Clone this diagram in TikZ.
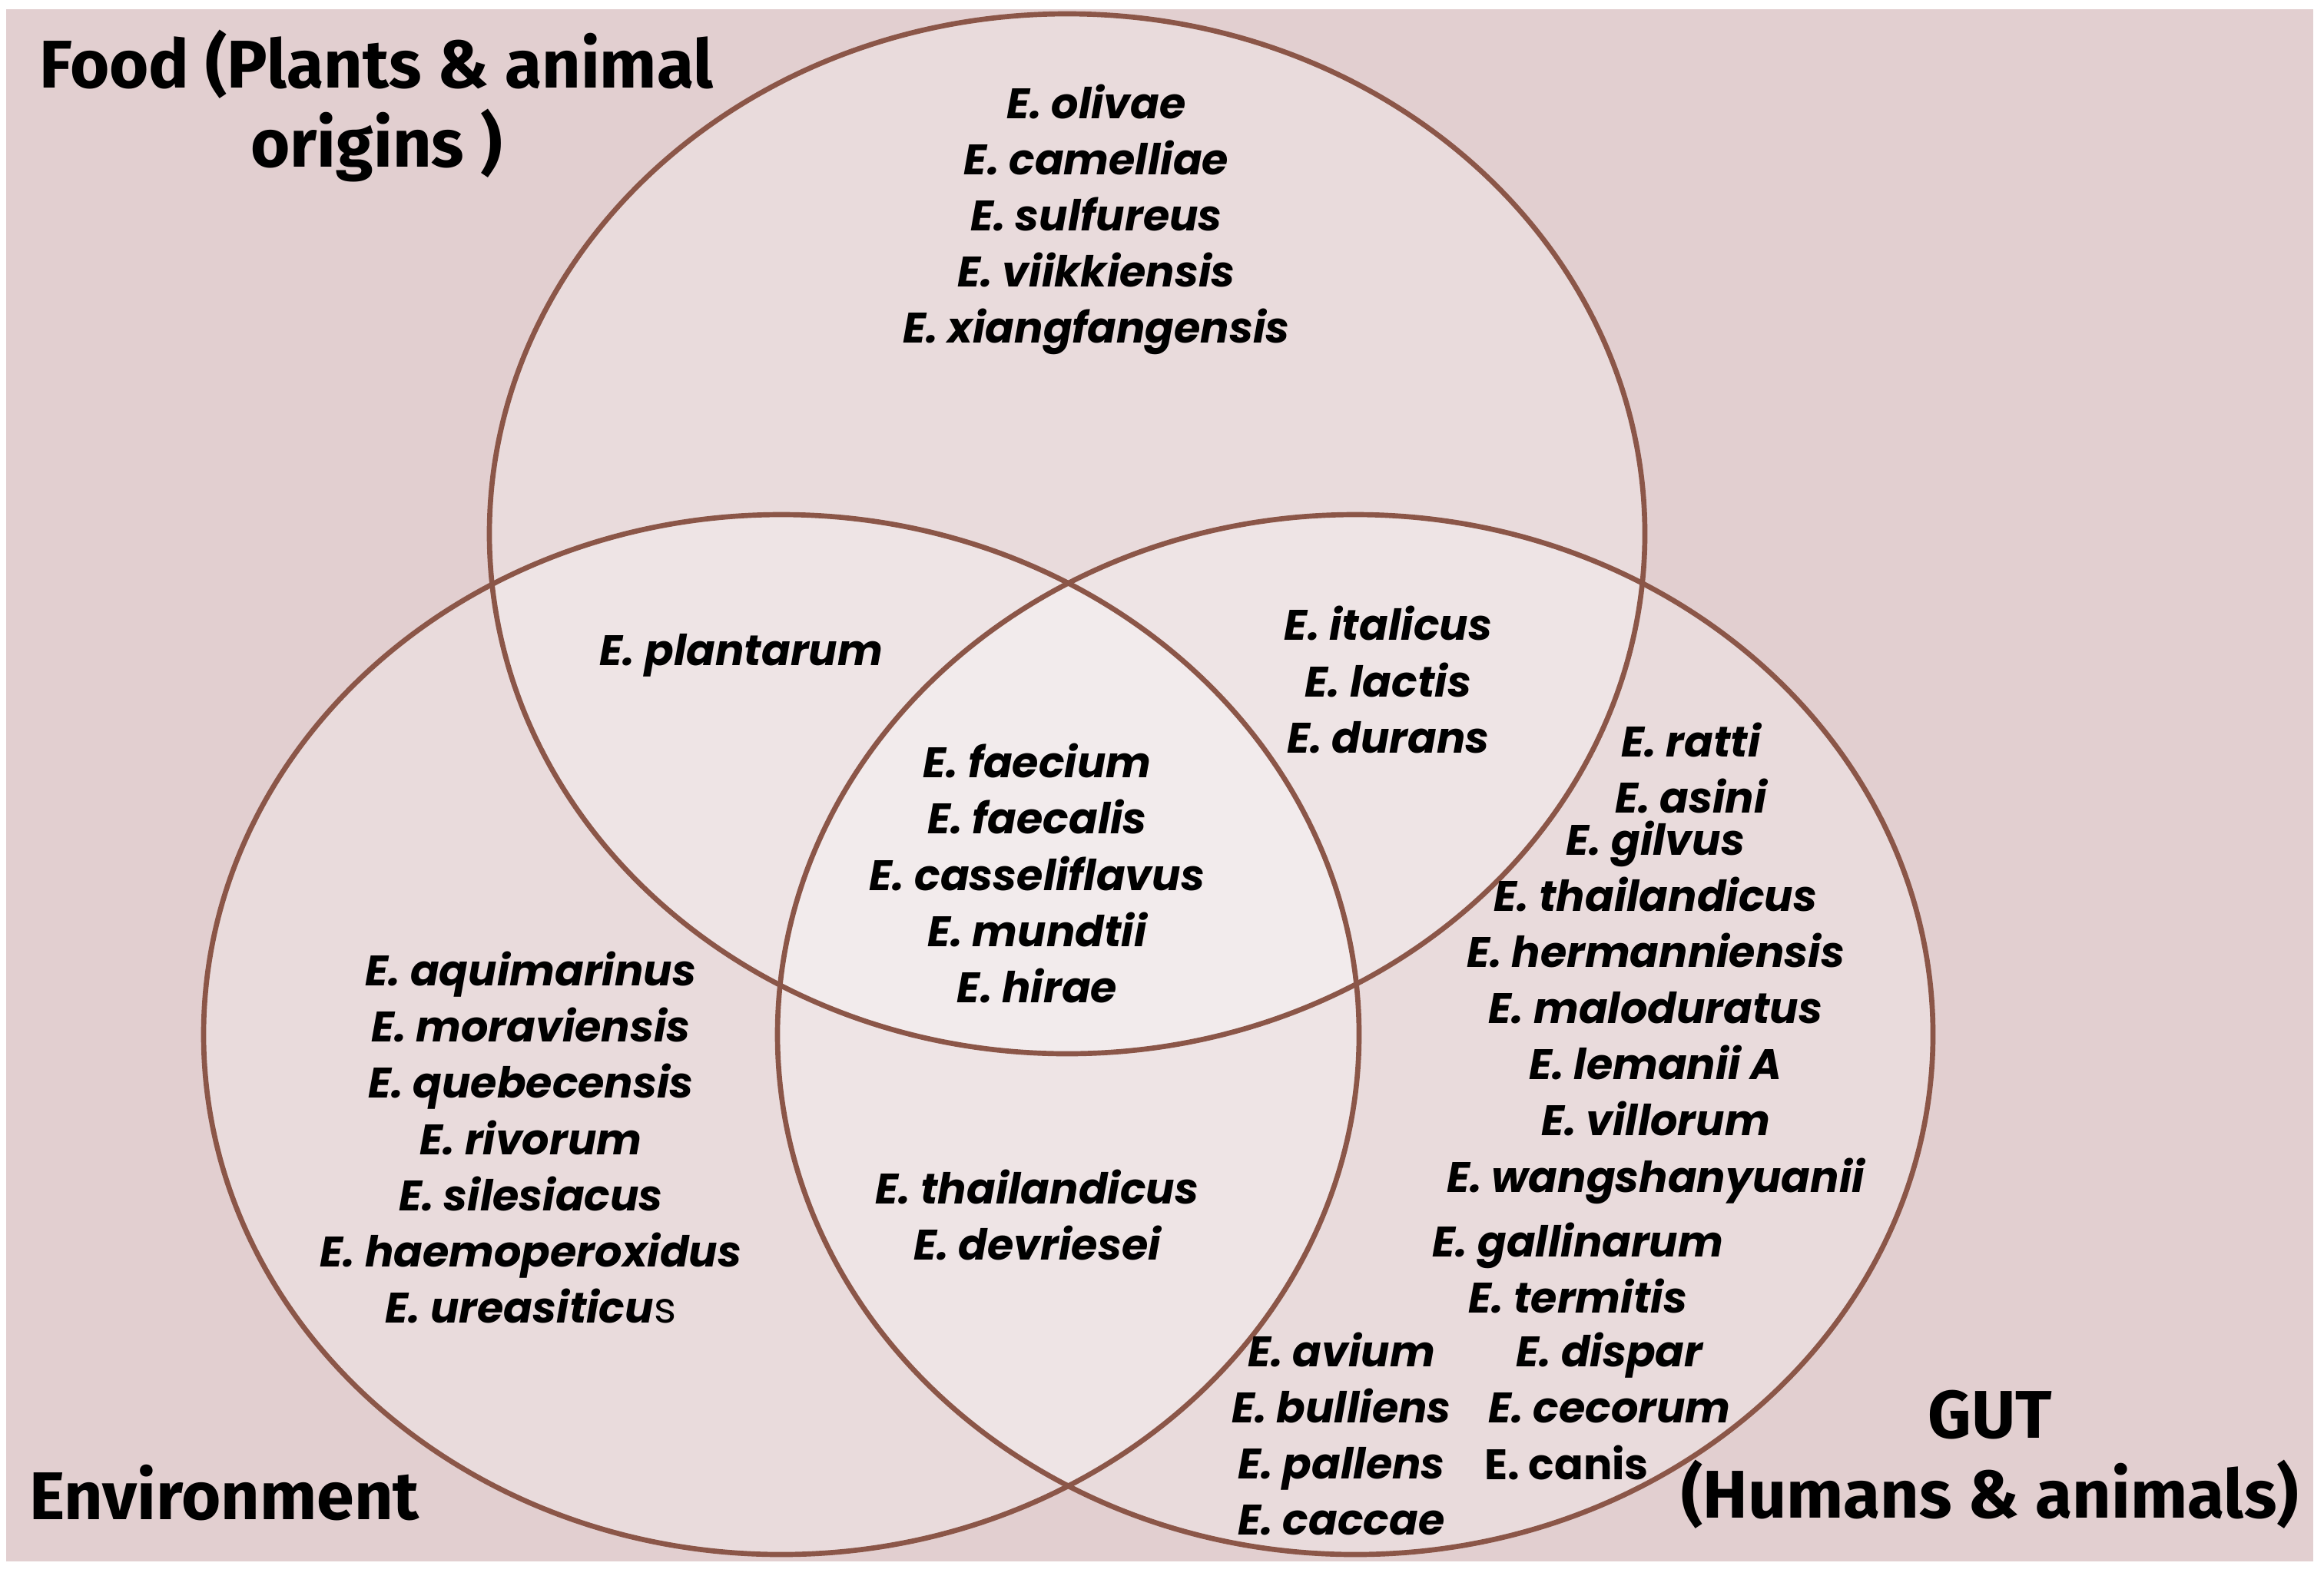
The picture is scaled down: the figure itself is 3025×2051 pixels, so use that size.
\documentclass[tikz,border=0pt]{standalone}
\usepackage{fontspec}
\setmainfont{Fira Sans}
\newfontfamily\spfont{Poppins}

\definecolor{bgpink}{RGB}{226,207,208}
\definecolor{ringbrown}{RGB}{139,86,72}

\tikzstyle{ring}=[draw=ringbrown, line width=1.9pt]
\tikzstyle{lens}=[fill=white, fill opacity=0.27]
\tikzstyle{species}=[align=center, inner sep=0pt,
                     font=\spfont\bfseries\itshape\fontsize{15.8}{20.8}\selectfont]
\tikzstyle{source}=[align=center, inner sep=0pt,
                    font=\bfseries\fontsize{25}{29.5}\selectfont]

\begin{document}
\begin{tikzpicture}[x=0.01cm, y=-0.01cm]

\useasboundingbox (0, 0) rectangle (3025, 2051);

%%%%%%%%%%%%%%%%%%%%%%%%%%%%%%
% background

\fill[white] (0, 0) rectangle (3025, 2051);
\fill[bgpink] (8, 12) rectangle (3011, 2033);

%%%%%%%%%%%%%%%%%%%%%%%%%%%%%%
% sets

\fill[lens] (1389, 695) ellipse [x radius=752, y radius=677];
\fill[lens] (1017, 1347) ellipse [x radius=752, y radius=677];
\fill[lens] (1764, 1347) ellipse [x radius=752, y radius=677];

\draw[ring] (1389, 695) ellipse [x radius=752, y radius=677];
\draw[ring] (1017, 1347) ellipse [x radius=752, y radius=677];
\draw[ring] (1764, 1347) ellipse [x radius=752, y radius=677];

%%%%%%%%%%%%%%%%%%%%%%%%%%%%%%
% set names

\node (food) at (490, 138) [source] {Food (Plants \& animal\\origins )};
\node (env) at (292, 1944) [source] {Environment};
\node (gut) at (2590, 1900) [source] {GUT\\(Humans \& animals)};

%%%%%%%%%%%%%%%%%%%%%%%%%%%%%%
% species

% food only
\node (sp_F) at (1427, 286) [species] {E. olivae\\E. camelliae\\E. sulfureus\\E. viikkiensis\\E. xiangfangensis};

% environment only
\node (sp_E) at (691, 1481) [species] {E. aquimarinus\\E. moraviensis\\E. quebecensis\\E. rivorum\\E. silesiacus\\E. haemoperoxidus\\E. ureasiticu{\mdseries\upshape s}};

% food & environment
\node (sp_FE) at (965, 853) [species] {E. plantarum};

% all three
\node (sp_FEG) at (1350, 1137) [species] {E. faecium\\E. faecalis\\E. casseliflavus\\E. mundtii\\E. hirae};

% food & gut
\node (sp_FG) at (1807, 885) [species] {E. italicus\\E. lactis\\E. durans};

% environment & gut
\node (sp_EG) at (1350, 1582) [species] {E. thailandicus\\E. devriesei};

% gut only
\node (sp_G1) at (2201, 1000) [species] {E. ratti\\E. asini};
\node (sp_G2) at (2155, 1318) [species] {E. gilvus\\E. thailandicus\\E. hermanniensis\\E. maloduratus\\E. lemanii A\\E. villorum\\E. wangshanyuanii};
\node (sp_G3) at (2054, 1651) [species] {E. gallinarum\\E. termitis};
\node (sp_G4) at (2095, 1794) [species] {E. dispar\\E. cecorum};
\node (sp_G5) at (2039, 1904) [species, font=\spfont\bfseries\fontsize{15.8}{20.8}\selectfont] {E. canis};
\node (sp_G6) at (1746, 1867) [species] {E. avium\\E. bulliens\\E. pallens\\E. caccae};

\end{tikzpicture}
\end{document}
